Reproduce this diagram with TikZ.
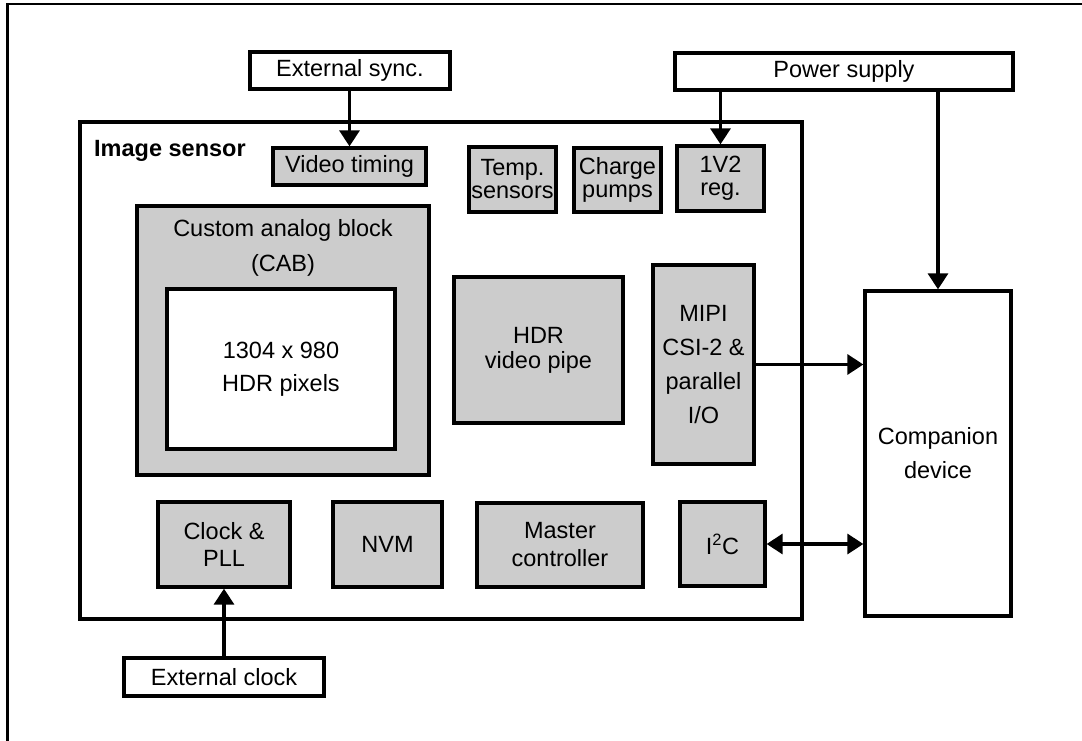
\documentclass[tikz,border=0pt]{standalone}
\usepackage{fontspec}
\setmainfont{Liberation Sans}
\usetikzlibrary{arrows.meta}
\definecolor{boxgray}{RGB}{204,204,204}
\begin{document}
\begin{tikzpicture}[x=1pt,y=-1pt,
  base/.style={draw, line width=3.3pt, inner sep=0pt, align=center,
    font=\fontsize{23.5}{28}\selectfont},
  gbox/.style={base, fill=boxgray},
  wbox/.style={base, fill=white},
  arr/.style={line width=3.3pt, -{Triangle[width=20pt,length=16pt]}},
  darr/.style={line width=3.3pt, {Triangle[width=20pt,length=16pt]}-{Triangle[width=20pt,length=16pt]}}]
\useasboundingbox (0,0) rectangle (1082,741);
% outer frame (partially visible)
\draw[line width=2.8pt] (7.5,741) -- (7.5,4) -- (1082,4);

\node[wbox, minimum width=200pt, minimum height=37pt] (sync) at (350,70.5) {External sync.};
\node[wbox, minimum width=338pt, minimum height=37pt] (power) at (844,71.5) {Power supply};
\node[wbox, minimum width=722pt, minimum height=497pt] (sensor) at (441,370.5) {};
\node[font=\fontsize{23.5}{28}\selectfont\bfseries, anchor=west, inner sep=0pt] (sensorlbl) at (94,151) {Image sensor};

\node[gbox, minimum width=153pt, minimum height=37pt] (vt) at (349.5,166.5) {Video timing};
\node[gbox, minimum width=87pt, minimum height=65pt, font=\fontsize{23.5}{23}\selectfont] (temp) at (512.5,179.5) {Temp.\\sensors};
\node[gbox, minimum width=87pt, minimum height=64pt, font=\fontsize{23.5}{23}\selectfont] (charge) at (617.5,180) {Charge\\pumps};
\node[gbox, minimum width=87pt, minimum height=65pt, font=\fontsize{23.5}{23}\selectfont] (reg) at (720.5,178.5) {1V2\\reg.};

\node[gbox, minimum width=292pt, minimum height=269pt] (cab) at (283,340.5) {};
\node[align=center, inner sep=0pt, font=\fontsize{23.5}{35}\selectfont] (cablbl) at (283,247.5) {Custom analog block\\(CAB)};
\node[wbox, minimum width=228pt, minimum height=160pt, font=\fontsize{23.5}{33}\selectfont] (pix) at (281,369) {1304 x 980\\HDR pixels};

\node[gbox, minimum width=169pt, minimum height=146pt, font=\fontsize{23.5}{25}\selectfont] (pipe) at (538.5,350) {HDR\\video pipe};
\node[gbox, minimum width=101pt, minimum height=199pt, font=\fontsize{23.5}{34}\selectfont] (mipi) at (703.5,364.5) {MIPI\\CSI-2 \&\\parallel\\I/O};
\node[wbox, minimum width=146pt, minimum height=325pt, font=\fontsize{23.5}{34}\selectfont] (comp) at (938,453.5) {Companion\\device};

\node[gbox, minimum width=132pt, minimum height=85pt, font=\fontsize{23.5}{27}\selectfont] (clock) at (224,544.5) {Clock \&\\PLL};
\node[gbox, minimum width=109pt, minimum height=85pt] (nvm) at (387.5,544.5) {NVM};
\node[gbox, minimum width=166pt, minimum height=84pt, font=\fontsize{23.5}{28}\selectfont] (master) at (560,545) {Master\\controller};
\node[gbox, minimum width=85pt, minimum height=84pt] (i2c) at (722.5,544) {I\textsuperscript{2}C};
\node[wbox, minimum width=200pt, minimum height=38pt] (extclk) at (224,677) {External clock};

\draw[arr] (vt.north |- sync.south) -- (vt.north);
\draw[arr] (reg.north |- power.south) -- (reg.north);
\draw[arr] (comp.north |- power.south) -- (comp.north);
\draw[arr] (mipi.east) -- (mipi.east -| comp.west);
\draw[darr] (i2c.east) -- (i2c.east -| comp.west);
\draw[arr] (clock.south |- extclk.north) -- (clock.south);
\end{tikzpicture}
\end{document}
